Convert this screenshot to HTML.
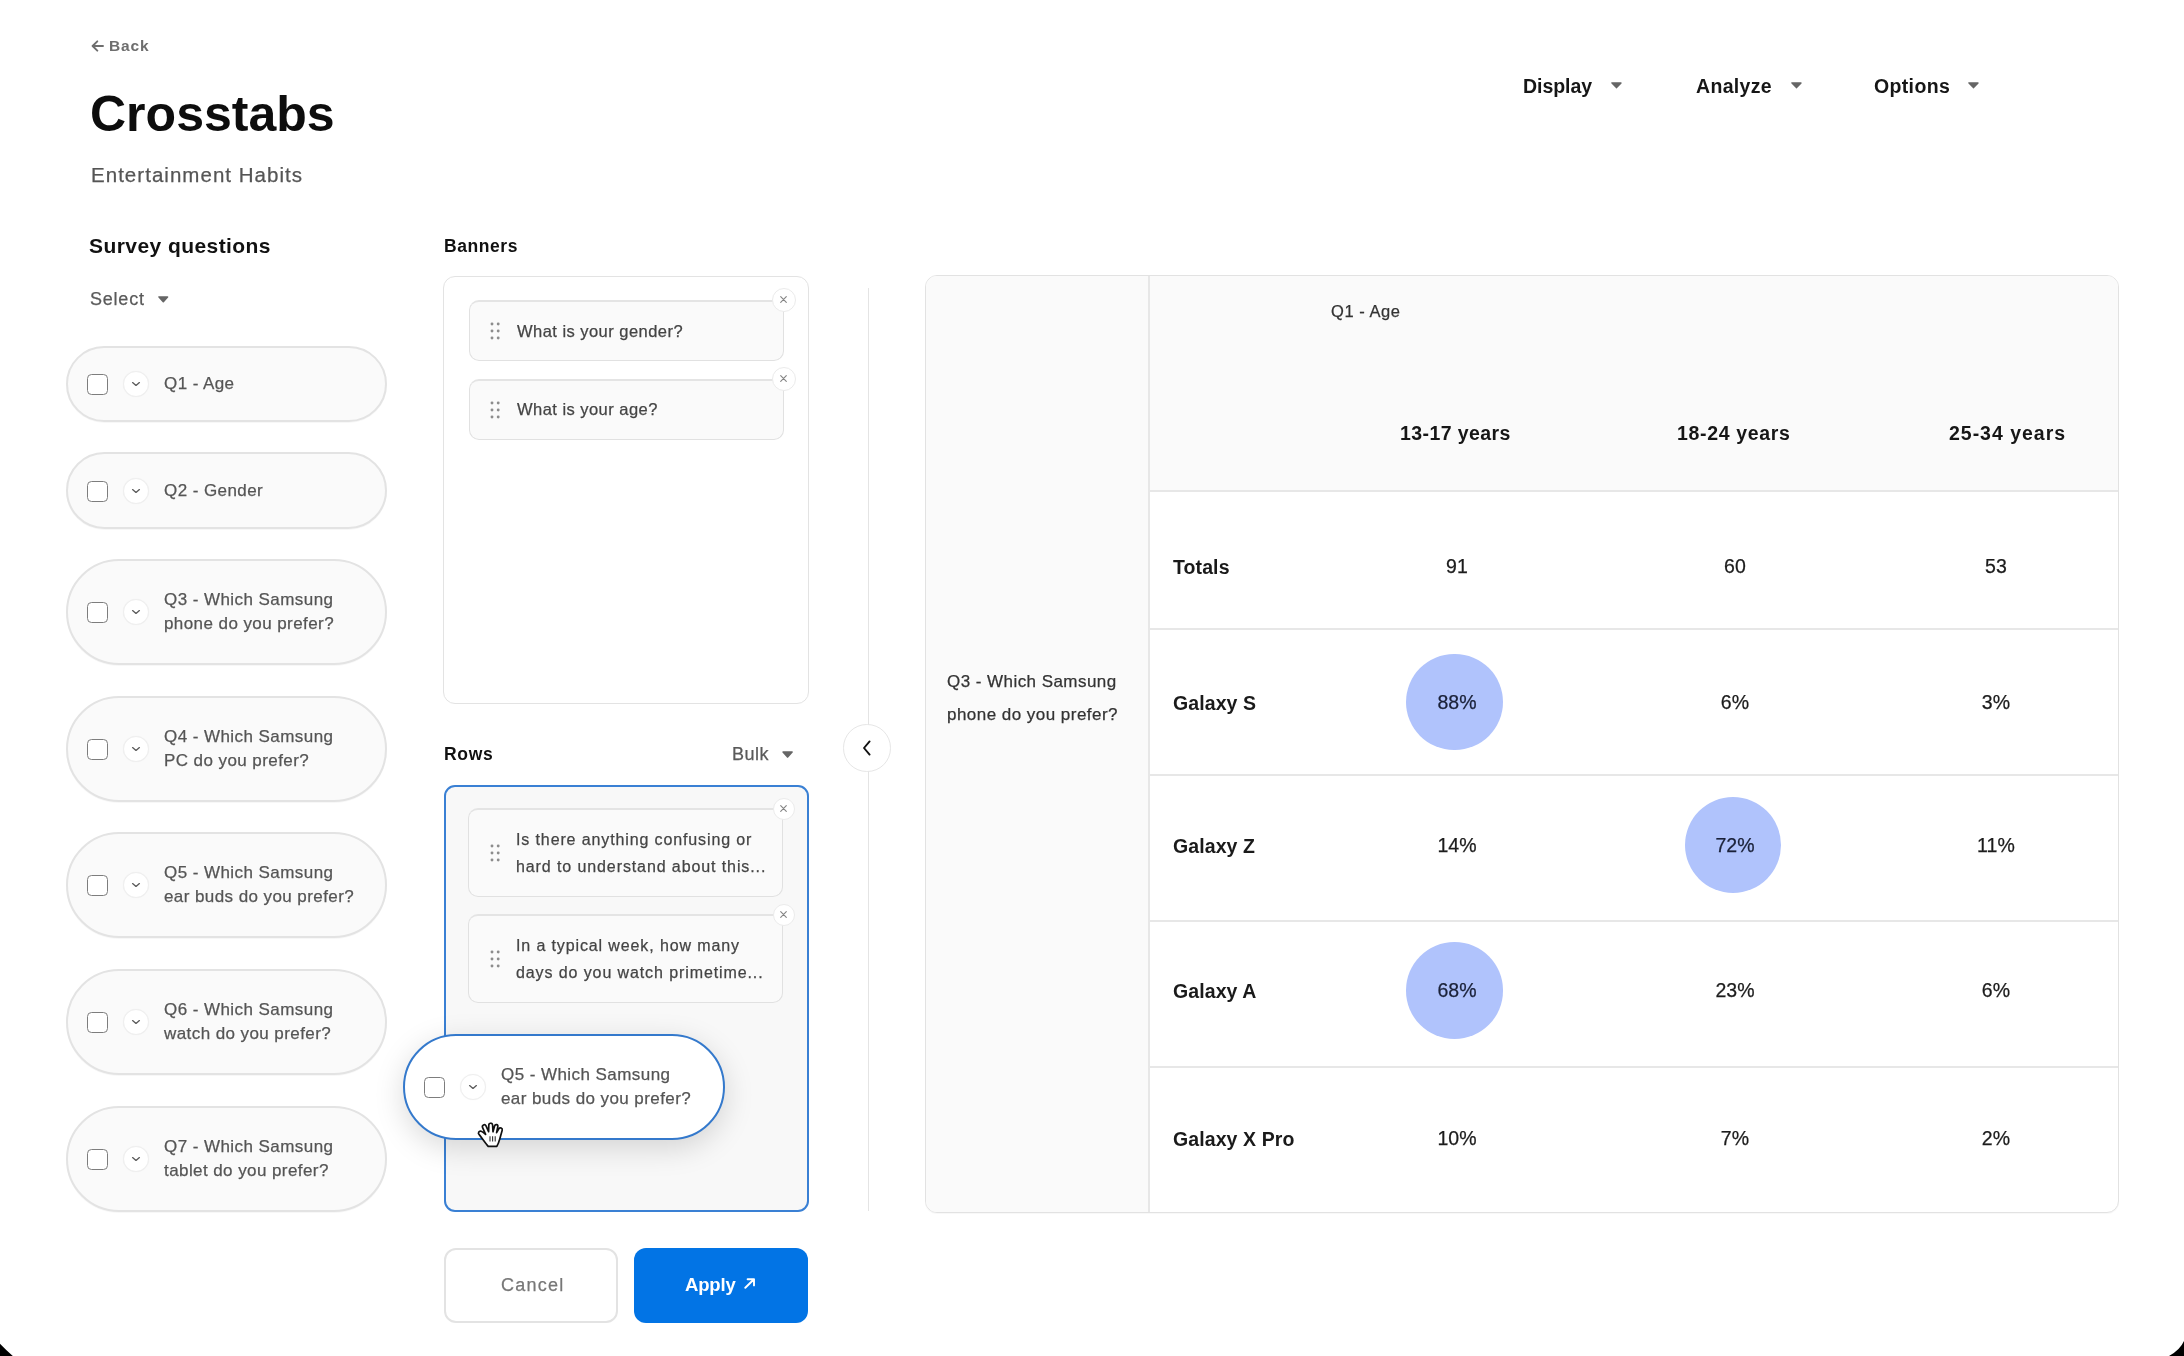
<!DOCTYPE html><html><head><meta charset="utf-8"><style>
html,body{margin:0;padding:0;}
body{width:2184px;height:1356px;overflow:hidden;background:#000;position:relative;font-family:"Liberation Sans", sans-serif;}
#page{position:absolute;left:0;top:0;width:2184px;height:1356px;background:#fff;overflow:hidden;}
.t{will-change:transform;}
.t.r{-webkit-text-stroke:0.25px currentColor;}
.a{position:absolute;}
.t{position:absolute;white-space:nowrap;}
</style></head><body><div id="page">
<svg class="a" style="left:91px;top:39.5px" width="13" height="12" viewBox="0 0 13 12"><path d="M12 6 L1.8 6 M6.3 1.3 L1.6 6 L6.3 10.7" fill="none" stroke="#6e6e6e" stroke-width="1.9" stroke-linecap="round" stroke-linejoin="round"/></svg>
<div class="t" style="left:109.40px;top:36.58px;font-size:15.5px;line-height:18.6px;font-weight:700;color:#6e6e6e;letter-spacing:0.867px;">Back</div>
<div class="t" style="left:89.70px;top:84.17px;font-size:50px;line-height:60.0px;font-weight:700;color:#0d0d0d;letter-spacing:0.013px;">Crosstabs</div>
<div class="t r" style="left:90.70px;top:162.92px;font-size:20.5px;line-height:24.6px;font-weight:400;color:#555;letter-spacing:1.032px;">Entertainment Habits</div>
<div class="t" style="left:1522.70px;top:74.56px;font-size:19.5px;line-height:23.4px;font-weight:700;color:#161616;letter-spacing:-0.033px;">Display</div>
<svg class="a" style="left:1611.2px;top:82.3px" width="11.00" height="6.50" viewBox="0 0 10 6.2" preserveAspectRatio="none"><path d="M1 0.9 L9 0.9 L5 5.3 Z" fill="#666" stroke="#666" stroke-width="1.5" stroke-linejoin="round"/></svg>
<div class="t" style="left:1695.90px;top:74.56px;font-size:19.5px;line-height:23.4px;font-weight:700;color:#161616;letter-spacing:0.333px;">Analyze</div>
<svg class="a" style="left:1790.7px;top:82.3px" width="11.00" height="6.50" viewBox="0 0 10 6.2" preserveAspectRatio="none"><path d="M1 0.9 L9 0.9 L5 5.3 Z" fill="#666" stroke="#666" stroke-width="1.5" stroke-linejoin="round"/></svg>
<div class="t" style="left:1873.50px;top:74.56px;font-size:19.5px;line-height:23.4px;font-weight:700;color:#161616;letter-spacing:0.35px;">Options</div>
<svg class="a" style="left:1967.9px;top:82.3px" width="11.00" height="6.50" viewBox="0 0 10 6.2" preserveAspectRatio="none"><path d="M1 0.9 L9 0.9 L5 5.3 Z" fill="#666" stroke="#666" stroke-width="1.5" stroke-linejoin="round"/></svg>
<div class="t" style="left:89.40px;top:233.16px;font-size:21px;line-height:25.2px;font-weight:700;color:#111;letter-spacing:0.433px;">Survey questions</div>
<div class="t r" style="left:89.60px;top:288.55px;font-size:18px;line-height:21.6px;font-weight:400;color:#5a5a5a;letter-spacing:0.78px;">Select</div>
<svg class="a" style="left:158.4px;top:296.2px" width="10.60" height="6.70" viewBox="0 0 10 6.2" preserveAspectRatio="none"><path d="M1 0.9 L9 0.9 L5 5.3 Z" fill="#666" stroke="#666" stroke-width="1.5" stroke-linejoin="round"/></svg>
<div class="a" style="left:66px;top:345.6px;width:321px;height:76.8px;box-sizing:border-box;border:2px solid #e3e3e3;border-radius:38.4px;background:#fafafa;box-shadow:0 1px 0 rgba(0,0,0,0.03)"></div>
<div class="a" style="left:86.5px;top:374.0px;width:21px;height:21px;box-sizing:border-box;border:1.8px solid #7d7d7d;border-radius:4.5px;background:#fff;"></div>
<div class="a" style="left:123.0px;top:371.0px;width:26px;height:26px;box-sizing:border-box;border-radius:50%;background:#fff;border:1px solid #efefef;box-shadow:0 0 1px rgba(0,0,0,0.06)"></div>
<svg class="a" style="left:131px;top:381.0px" width="10" height="6" viewBox="0 0 10 6"><path d="M1.6 1.6 L5 4.4 L8.4 1.6" fill="none" stroke="#5a5a5a" stroke-width="1.35" stroke-linecap="round" stroke-linejoin="round"/></svg>
<div class="t r" style="left:163.80px;top:374.18px;font-size:17px;line-height:20.4px;font-weight:400;color:#555;letter-spacing:0.42px;">Q1 - Age</div>
<div class="a" style="left:66px;top:452.3px;width:321px;height:76.8px;box-sizing:border-box;border:2px solid #e3e3e3;border-radius:38.4px;background:#fafafa;box-shadow:0 1px 0 rgba(0,0,0,0.03)"></div>
<div class="a" style="left:86.5px;top:480.7px;width:21px;height:21px;box-sizing:border-box;border:1.8px solid #7d7d7d;border-radius:4.5px;background:#fff;"></div>
<div class="a" style="left:123.0px;top:477.7px;width:26px;height:26px;box-sizing:border-box;border-radius:50%;background:#fff;border:1px solid #efefef;box-shadow:0 0 1px rgba(0,0,0,0.06)"></div>
<svg class="a" style="left:131px;top:487.7px" width="10" height="6" viewBox="0 0 10 6"><path d="M1.6 1.6 L5 4.4 L8.4 1.6" fill="none" stroke="#5a5a5a" stroke-width="1.35" stroke-linecap="round" stroke-linejoin="round"/></svg>
<div class="t r" style="left:163.80px;top:480.88px;font-size:17px;line-height:20.4px;font-weight:400;color:#555;letter-spacing:0.42px;">Q2 - Gender</div>
<div class="a" style="left:66px;top:558.8px;width:321px;height:106px;box-sizing:border-box;border:2px solid #e3e3e3;border-radius:53.0px;background:#fafafa;box-shadow:0 1px 0 rgba(0,0,0,0.03)"></div>
<div class="a" style="left:86.5px;top:601.8px;width:21px;height:21px;box-sizing:border-box;border:1.8px solid #7d7d7d;border-radius:4.5px;background:#fff;"></div>
<div class="a" style="left:123.0px;top:598.8px;width:26px;height:26px;box-sizing:border-box;border-radius:50%;background:#fff;border:1px solid #efefef;box-shadow:0 0 1px rgba(0,0,0,0.06)"></div>
<svg class="a" style="left:131px;top:608.8px" width="10" height="6" viewBox="0 0 10 6"><path d="M1.6 1.6 L5 4.4 L8.4 1.6" fill="none" stroke="#5a5a5a" stroke-width="1.35" stroke-linecap="round" stroke-linejoin="round"/></svg>
<div class="t r" style="left:163.80px;top:590.08px;font-size:17px;line-height:20.4px;font-weight:400;color:#555;letter-spacing:0.44px;">Q3 - Which Samsung</div>
<div class="t r" style="left:163.80px;top:613.98px;font-size:17px;line-height:20.4px;font-weight:400;color:#555;letter-spacing:0.42px;">phone do you prefer?</div>
<div class="a" style="left:66px;top:695.5px;width:321px;height:106px;box-sizing:border-box;border:2px solid #e3e3e3;border-radius:53.0px;background:#fafafa;box-shadow:0 1px 0 rgba(0,0,0,0.03)"></div>
<div class="a" style="left:86.5px;top:738.5px;width:21px;height:21px;box-sizing:border-box;border:1.8px solid #7d7d7d;border-radius:4.5px;background:#fff;"></div>
<div class="a" style="left:123.0px;top:735.5px;width:26px;height:26px;box-sizing:border-box;border-radius:50%;background:#fff;border:1px solid #efefef;box-shadow:0 0 1px rgba(0,0,0,0.06)"></div>
<svg class="a" style="left:131px;top:745.5px" width="10" height="6" viewBox="0 0 10 6"><path d="M1.6 1.6 L5 4.4 L8.4 1.6" fill="none" stroke="#5a5a5a" stroke-width="1.35" stroke-linecap="round" stroke-linejoin="round"/></svg>
<div class="t r" style="left:163.80px;top:726.78px;font-size:17px;line-height:20.4px;font-weight:400;color:#555;letter-spacing:0.44px;">Q4 - Which Samsung</div>
<div class="t r" style="left:163.80px;top:750.68px;font-size:17px;line-height:20.4px;font-weight:400;color:#555;letter-spacing:0.42px;">PC do you prefer?</div>
<div class="a" style="left:66px;top:832.2px;width:321px;height:106px;box-sizing:border-box;border:2px solid #e3e3e3;border-radius:53.0px;background:#fafafa;box-shadow:0 1px 0 rgba(0,0,0,0.03)"></div>
<div class="a" style="left:86.5px;top:875.2px;width:21px;height:21px;box-sizing:border-box;border:1.8px solid #7d7d7d;border-radius:4.5px;background:#fff;"></div>
<div class="a" style="left:123.0px;top:872.2px;width:26px;height:26px;box-sizing:border-box;border-radius:50%;background:#fff;border:1px solid #efefef;box-shadow:0 0 1px rgba(0,0,0,0.06)"></div>
<svg class="a" style="left:131px;top:882.2px" width="10" height="6" viewBox="0 0 10 6"><path d="M1.6 1.6 L5 4.4 L8.4 1.6" fill="none" stroke="#5a5a5a" stroke-width="1.35" stroke-linecap="round" stroke-linejoin="round"/></svg>
<div class="t r" style="left:163.80px;top:863.48px;font-size:17px;line-height:20.4px;font-weight:400;color:#555;letter-spacing:0.44px;">Q5 - Which Samsung</div>
<div class="t r" style="left:163.80px;top:887.38px;font-size:17px;line-height:20.4px;font-weight:400;color:#555;letter-spacing:0.42px;">ear buds do you prefer?</div>
<div class="a" style="left:66px;top:968.9px;width:321px;height:106px;box-sizing:border-box;border:2px solid #e3e3e3;border-radius:53.0px;background:#fafafa;box-shadow:0 1px 0 rgba(0,0,0,0.03)"></div>
<div class="a" style="left:86.5px;top:1011.9px;width:21px;height:21px;box-sizing:border-box;border:1.8px solid #7d7d7d;border-radius:4.5px;background:#fff;"></div>
<div class="a" style="left:123.0px;top:1008.9px;width:26px;height:26px;box-sizing:border-box;border-radius:50%;background:#fff;border:1px solid #efefef;box-shadow:0 0 1px rgba(0,0,0,0.06)"></div>
<svg class="a" style="left:131px;top:1018.9px" width="10" height="6" viewBox="0 0 10 6"><path d="M1.6 1.6 L5 4.4 L8.4 1.6" fill="none" stroke="#5a5a5a" stroke-width="1.35" stroke-linecap="round" stroke-linejoin="round"/></svg>
<div class="t r" style="left:163.80px;top:1000.18px;font-size:17px;line-height:20.4px;font-weight:400;color:#555;letter-spacing:0.44px;">Q6 - Which Samsung</div>
<div class="t r" style="left:163.80px;top:1024.08px;font-size:17px;line-height:20.4px;font-weight:400;color:#555;letter-spacing:0.42px;">watch do you prefer?</div>
<div class="a" style="left:66px;top:1105.6px;width:321px;height:106px;box-sizing:border-box;border:2px solid #e3e3e3;border-radius:53.0px;background:#fafafa;box-shadow:0 1px 0 rgba(0,0,0,0.03)"></div>
<div class="a" style="left:86.5px;top:1148.6px;width:21px;height:21px;box-sizing:border-box;border:1.8px solid #7d7d7d;border-radius:4.5px;background:#fff;"></div>
<div class="a" style="left:123.0px;top:1145.6px;width:26px;height:26px;box-sizing:border-box;border-radius:50%;background:#fff;border:1px solid #efefef;box-shadow:0 0 1px rgba(0,0,0,0.06)"></div>
<svg class="a" style="left:131px;top:1155.6px" width="10" height="6" viewBox="0 0 10 6"><path d="M1.6 1.6 L5 4.4 L8.4 1.6" fill="none" stroke="#5a5a5a" stroke-width="1.35" stroke-linecap="round" stroke-linejoin="round"/></svg>
<div class="t r" style="left:163.80px;top:1136.88px;font-size:17px;line-height:20.4px;font-weight:400;color:#555;letter-spacing:0.44px;">Q7 - Which Samsung</div>
<div class="t r" style="left:163.80px;top:1160.78px;font-size:17px;line-height:20.4px;font-weight:400;color:#555;letter-spacing:0.42px;">tablet do you prefer?</div>
<div class="t" style="left:443.60px;top:235.62px;font-size:17.5px;line-height:21.0px;font-weight:700;color:#111;letter-spacing:0.567px;">Banners</div>
<div class="a" style="left:443px;top:275.5px;width:366px;height:428px;box-sizing:border-box;border:1.4px solid #e3e3e3;border-radius:12px;background:#fff;"></div>
<div class="a" style="left:468.5px;top:300.4px;width:315px;height:61px;box-sizing:border-box;border:1.5px solid #e1e1e1;border-top:2.5px solid #e4e4e4;border-radius:10px;background:#fafafa;"></div>
<svg class="a" style="left:489px;top:320.9px" width="13" height="20" viewBox="0 0 13 20"><circle cx="3" cy="3" r="1.45" fill="#8c8c8c"/><circle cx="3" cy="10" r="1.45" fill="#8c8c8c"/><circle cx="3" cy="17" r="1.45" fill="#8c8c8c"/><circle cx="9.2" cy="3" r="1.45" fill="#8c8c8c"/><circle cx="9.2" cy="10" r="1.45" fill="#8c8c8c"/><circle cx="9.2" cy="17" r="1.45" fill="#8c8c8c"/></svg>
<div class="t r" style="left:517.30px;top:321.55px;font-size:16.5px;line-height:19.8px;font-weight:400;color:#444;letter-spacing:0.46px;">What is your gender?</div>
<div class="a" style="left:771.5px;top:288.4px;width:24px;height:24px;box-sizing:border-box;border-radius:50%;background:#fff;border:1.2px solid #ebebeb;"></div>
<svg class="a" style="left:779.0px;top:295.09999999999997px" width="9" height="9" viewBox="0 0 9 9"><path d="M1.7 1.7 L7.3 7.3 M7.3 1.7 L1.7 7.3" fill="none" stroke="#858585" stroke-width="1.15" stroke-linecap="round"/></svg>
<div class="a" style="left:468.5px;top:379.2px;width:315px;height:60.7px;box-sizing:border-box;border:1.5px solid #e1e1e1;border-top:2.5px solid #e4e4e4;border-radius:10px;background:#fafafa;"></div>
<svg class="a" style="left:489px;top:399.55px" width="13" height="20" viewBox="0 0 13 20"><circle cx="3" cy="3" r="1.45" fill="#8c8c8c"/><circle cx="3" cy="10" r="1.45" fill="#8c8c8c"/><circle cx="3" cy="17" r="1.45" fill="#8c8c8c"/><circle cx="9.2" cy="3" r="1.45" fill="#8c8c8c"/><circle cx="9.2" cy="10" r="1.45" fill="#8c8c8c"/><circle cx="9.2" cy="17" r="1.45" fill="#8c8c8c"/></svg>
<div class="t r" style="left:517.30px;top:400.20px;font-size:16.5px;line-height:19.8px;font-weight:400;color:#444;letter-spacing:0.46px;">What is your age?</div>
<div class="a" style="left:771.5px;top:367.2px;width:24px;height:24px;box-sizing:border-box;border-radius:50%;background:#fff;border:1.2px solid #ebebeb;"></div>
<svg class="a" style="left:779.0px;top:373.9px" width="9" height="9" viewBox="0 0 9 9"><path d="M1.7 1.7 L7.3 7.3 M7.3 1.7 L1.7 7.3" fill="none" stroke="#858585" stroke-width="1.15" stroke-linecap="round"/></svg>
<div class="t" style="left:443.80px;top:743.82px;font-size:17.5px;line-height:21.0px;font-weight:700;color:#111;letter-spacing:0.667px;">Rows</div>
<div class="t r" style="left:732.30px;top:744.15px;font-size:18px;line-height:21.6px;font-weight:400;color:#5a5a5a;letter-spacing:0.5px;">Bulk</div>
<svg class="a" style="left:782.3px;top:751px" width="11.20" height="7.00" viewBox="0 0 10 6.2" preserveAspectRatio="none"><path d="M1 0.9 L9 0.9 L5 5.3 Z" fill="#666" stroke="#666" stroke-width="1.5" stroke-linejoin="round"/></svg>
<div class="a" style="left:443.5px;top:784.5px;width:365px;height:427px;box-sizing:border-box;border:2px solid #3a80d4;border-radius:11px;background:#f8f8f8;"></div>
<div class="a" style="left:468.3px;top:808.4px;width:315px;height:88.2px;box-sizing:border-box;border:1.5px solid #e1e1e1;border-top:2.5px solid #e4e4e4;border-radius:10px;background:#fafafa;"></div>
<svg class="a" style="left:489px;top:842.5px" width="13" height="20" viewBox="0 0 13 20"><circle cx="3" cy="3" r="1.45" fill="#8c8c8c"/><circle cx="3" cy="10" r="1.45" fill="#8c8c8c"/><circle cx="3" cy="17" r="1.45" fill="#8c8c8c"/><circle cx="9.2" cy="3" r="1.45" fill="#8c8c8c"/><circle cx="9.2" cy="10" r="1.45" fill="#8c8c8c"/><circle cx="9.2" cy="17" r="1.45" fill="#8c8c8c"/></svg>
<div class="t r" style="left:516.00px;top:830.21px;font-size:16px;line-height:19.2px;font-weight:400;color:#444;letter-spacing:0.88px;">Is there anything confusing or</div>
<div class="t r" style="left:516.00px;top:857.21px;font-size:16px;line-height:19.2px;font-weight:400;color:#444;letter-spacing:0.9px;">hard to understand about this...</div>
<div class="a" style="left:772.5px;top:797.9px;width:22px;height:22px;box-sizing:border-box;border-radius:50%;background:#fff;border:1.2px solid #ebebeb;"></div>
<svg class="a" style="left:779.0px;top:803.6px" width="9" height="9" viewBox="0 0 9 9"><path d="M1.7 1.7 L7.3 7.3 M7.3 1.7 L1.7 7.3" fill="none" stroke="#858585" stroke-width="1.15" stroke-linecap="round"/></svg>
<div class="a" style="left:468.3px;top:914.3px;width:315px;height:88.5px;box-sizing:border-box;border:1.5px solid #e1e1e1;border-top:2.5px solid #e4e4e4;border-radius:10px;background:#fafafa;"></div>
<svg class="a" style="left:489px;top:948.55px" width="13" height="20" viewBox="0 0 13 20"><circle cx="3" cy="3" r="1.45" fill="#8c8c8c"/><circle cx="3" cy="10" r="1.45" fill="#8c8c8c"/><circle cx="3" cy="17" r="1.45" fill="#8c8c8c"/><circle cx="9.2" cy="3" r="1.45" fill="#8c8c8c"/><circle cx="9.2" cy="10" r="1.45" fill="#8c8c8c"/><circle cx="9.2" cy="17" r="1.45" fill="#8c8c8c"/></svg>
<div class="t r" style="left:516.00px;top:936.26px;font-size:16px;line-height:19.2px;font-weight:400;color:#444;letter-spacing:0.88px;">In a typical week, how many</div>
<div class="t r" style="left:516.00px;top:963.26px;font-size:16px;line-height:19.2px;font-weight:400;color:#444;letter-spacing:0.9px;">days do you watch primetime...</div>
<div class="a" style="left:772.5px;top:903.8px;width:22px;height:22px;box-sizing:border-box;border-radius:50%;background:#fff;border:1.2px solid #ebebeb;"></div>
<svg class="a" style="left:779.0px;top:909.5px" width="9" height="9" viewBox="0 0 9 9"><path d="M1.7 1.7 L7.3 7.3 M7.3 1.7 L1.7 7.3" fill="none" stroke="#858585" stroke-width="1.15" stroke-linecap="round"/></svg>
<div class="a" style="left:403px;top:1033.5px;width:321.5px;height:106.5px;box-sizing:border-box;border:2px solid #3479cc;border-radius:53.25px;background:#fff;box-shadow:0 8px 30px rgba(0,0,0,0.15)"></div>
<div class="a" style="left:424px;top:1076.75px;width:21px;height:21px;box-sizing:border-box;border:1.8px solid #7d7d7d;border-radius:4.5px;background:#fff;"></div>
<div class="a" style="left:460.0px;top:1073.75px;width:26px;height:26px;box-sizing:border-box;border-radius:50%;background:#fff;border:1px solid #efefef;box-shadow:0 0 1px rgba(0,0,0,0.06)"></div>
<svg class="a" style="left:468px;top:1083.75px" width="10" height="6" viewBox="0 0 10 6"><path d="M1.6 1.6 L5 4.4 L8.4 1.6" fill="none" stroke="#5a5a5a" stroke-width="1.35" stroke-linecap="round" stroke-linejoin="round"/></svg>
<div class="t r" style="left:500.80px;top:1065.03px;font-size:17px;line-height:20.4px;font-weight:400;color:#555;letter-spacing:0.44px;">Q5 - Which Samsung</div>
<div class="t r" style="left:500.80px;top:1088.93px;font-size:17px;line-height:20.4px;font-weight:400;color:#555;letter-spacing:0.42px;">ear buds do you prefer?</div>
<svg class="a" style="left:470px;top:1112px" width="42" height="42" viewBox="0 0 42 42">
<path d="M9.2 22.6 C7.6 21.4 8.8 18.6 11.2 19.2 C12.6 19.6 14.2 21 15.6 22.4 L12.6 15.6 C11.6 13.2 14.8 11.6 16 13.8 L18.6 19.6 L18.8 13.2 C18.8 10.6 22.4 10.6 22.6 13 L23 19.8 L24.6 14 C25.2 11.8 28.2 12.4 27.8 14.6 L26.6 20.6 L28.8 16.8 C30 15 32.8 16.2 32.2 18.2 L29.6 27.4 C29 30 28 32.2 26.8 34.4 L18.2 34.4 C15.6 31.4 12.4 26.6 9.2 22.6 Z" fill="#fff" stroke="#111" stroke-width="1.7" stroke-linejoin="round"/>
<path d="M20 24.2 L20 29.6 M22.6 24.2 L22.6 29.6 M25.2 24.2 L25.2 29.6" stroke="#333" stroke-width="1.1"/>
</svg>
<div class="a" style="left:443.5px;top:1247.5px;width:174.5px;height:75.5px;box-sizing:border-box;border:2px solid #e3e3e3;border-radius:12px;background:#fff;"></div>
<div class="t r" style="left:500.80px;top:1274.55px;font-size:18px;line-height:21.6px;font-weight:400;color:#777;letter-spacing:1.24px;">Cancel</div>
<div class="a" style="left:633.5px;top:1247.5px;width:174.5px;height:75.5px;border-radius:12px;background:#0274e5;"></div>
<div class="t" style="left:685.10px;top:1274.39px;font-size:18.5px;line-height:22.2px;font-weight:700;color:#fff;letter-spacing:-0.15px;">Apply</div>
<svg class="a" style="left:743.5px;top:1277.5px" width="12" height="11" viewBox="0 0 12 11"><path d="M1.3 9.8 L10 1.2 M3.6 1.2 L10 1.2 L10 7.4" fill="none" stroke="#fff" stroke-width="1.9" stroke-linecap="round" stroke-linejoin="round"/></svg>
<div class="a" style="left:867.5px;top:288px;width:1.5px;height:923px;background:#e4e4e4;"></div>
<div class="a" style="left:843.3px;top:724.3px;width:47.5px;height:47.5px;box-sizing:border-box;border-radius:50%;border:1.4px solid #e6e6e6;background:#fff;"></div>
<svg class="a" style="left:861px;top:739px" width="12" height="18" viewBox="0 0 12 18"><path d="M8.6 2.4 L3 9 L8.6 15.6" fill="none" stroke="#111" stroke-width="1.9" stroke-linecap="round" stroke-linejoin="round"/></svg>
<div class="a" style="left:925px;top:275px;width:1194px;height:937.5px;box-sizing:border-box;border:1.4px solid #e2e2e2;border-radius:12px;background:#fff;overflow:hidden;box-shadow:0 1px 1px rgba(0,0,0,0.03)">
<div class="a" style="left:-1.40px;top:-1.40px;width:224px;height:937.5px;background:#fafafa;"></div>
<div class="a" style="left:222.60px;top:-1.40px;width:970px;height:216px;background:#fafafa;"></div>
<div class="a" style="left:221.60px;top:-1.40px;width:2px;height:937.5px;background:#e7e7e7;"></div>
<div class="a" style="left:222.60px;top:213.60px;width:970px;height:2px;background:#e7e7e7;"></div>
<div class="a" style="left:222.60px;top:351.60px;width:970px;height:2px;background:#e7e7e7;"></div>
<div class="a" style="left:222.60px;top:497.60px;width:970px;height:2px;background:#e7e7e7;"></div>
<div class="a" style="left:222.60px;top:643.60px;width:970px;height:2px;background:#e7e7e7;"></div>
<div class="a" style="left:222.60px;top:789.60px;width:970px;height:2px;background:#e7e7e7;"></div>
</div>
<div class="t r" style="left:1331.40px;top:302.05px;font-size:16.5px;line-height:19.8px;font-weight:400;color:#333;letter-spacing:0.543px;">Q1 - Age</div>
<div class="t" style="left:1399.80px;top:421.76px;font-size:19.5px;line-height:23.4px;font-weight:700;color:#161616;letter-spacing:0.42px;">13-17 years</div>
<div class="t" style="left:1676.50px;top:421.66px;font-size:19.5px;line-height:23.4px;font-weight:700;color:#161616;letter-spacing:0.66px;">18-24 years</div>
<div class="t" style="left:1949.20px;top:421.66px;font-size:19.5px;line-height:23.4px;font-weight:700;color:#161616;letter-spacing:0.98px;">25-34 years</div>
<div class="t r" style="left:947.30px;top:671.68px;font-size:17px;line-height:20.4px;font-weight:400;color:#333;letter-spacing:0.447px;">Q3 - Which Samsung</div>
<div class="t r" style="left:947.30px;top:705.08px;font-size:17px;line-height:20.4px;font-weight:400;color:#333;letter-spacing:0.468px;">phone do you prefer?</div>
<div class="t" style="left:1172.90px;top:555.96px;font-size:19.5px;line-height:23.4px;font-weight:700;color:#1a1a1a;letter-spacing:0.1px;">Totals</div>
<div class="t r" style="left:1396.80px;width:120px;text-align:center;top:555.36px;font-size:19.5px;line-height:23.4px;font-weight:400;color:#1c1c1c;letter-spacing:0.1px;text-indent:0.1px;">91</div>
<div class="t r" style="left:1674.50px;width:120px;text-align:center;top:555.36px;font-size:19.5px;line-height:23.4px;font-weight:400;color:#1c1c1c;letter-spacing:0.1px;text-indent:0.1px;">60</div>
<div class="t r" style="left:1936.00px;width:120px;text-align:center;top:555.36px;font-size:19.5px;line-height:23.4px;font-weight:400;color:#1c1c1c;letter-spacing:0.1px;text-indent:0.1px;">53</div>
<div class="t" style="left:1172.90px;top:691.96px;font-size:19.5px;line-height:23.4px;font-weight:700;color:#1a1a1a;letter-spacing:0.1px;">Galaxy S</div>
<div class="a" style="left:1406.35px;top:653.75px;width:96.5px;height:96.5px;border-radius:50%;background:#b0c3fc;"></div>
<div class="t r" style="left:1396.80px;width:120px;text-align:center;top:690.76px;font-size:19.5px;line-height:23.4px;font-weight:400;color:#1a2138;letter-spacing:0.1px;text-indent:0.1px;">88%</div>
<div class="t r" style="left:1674.50px;width:120px;text-align:center;top:690.76px;font-size:19.5px;line-height:23.4px;font-weight:400;color:#1c1c1c;letter-spacing:0.1px;text-indent:0.1px;">6%</div>
<div class="t r" style="left:1936.00px;width:120px;text-align:center;top:690.76px;font-size:19.5px;line-height:23.4px;font-weight:400;color:#1c1c1c;letter-spacing:0.1px;text-indent:0.1px;">3%</div>
<div class="t" style="left:1172.90px;top:834.96px;font-size:19.5px;line-height:23.4px;font-weight:700;color:#1a1a1a;letter-spacing:0.1px;">Galaxy Z</div>
<div class="t r" style="left:1396.80px;width:120px;text-align:center;top:833.76px;font-size:19.5px;line-height:23.4px;font-weight:400;color:#1c1c1c;letter-spacing:0.1px;text-indent:0.1px;">14%</div>
<div class="a" style="left:1684.75px;top:796.75px;width:96.5px;height:96.5px;border-radius:50%;background:#b0c3fc;"></div>
<div class="t r" style="left:1674.50px;width:120px;text-align:center;top:833.76px;font-size:19.5px;line-height:23.4px;font-weight:400;color:#1a2138;letter-spacing:0.1px;text-indent:0.1px;">72%</div>
<div class="t r" style="left:1936.00px;width:120px;text-align:center;top:833.76px;font-size:19.5px;line-height:23.4px;font-weight:400;color:#1c1c1c;letter-spacing:0.1px;text-indent:0.1px;">11%</div>
<div class="t" style="left:1172.90px;top:980.46px;font-size:19.5px;line-height:23.4px;font-weight:700;color:#1a1a1a;letter-spacing:0.1px;">Galaxy A</div>
<div class="a" style="left:1406.35px;top:942.25px;width:96.5px;height:96.5px;border-radius:50%;background:#b0c3fc;"></div>
<div class="t r" style="left:1396.80px;width:120px;text-align:center;top:979.26px;font-size:19.5px;line-height:23.4px;font-weight:400;color:#1a2138;letter-spacing:0.1px;text-indent:0.1px;">68%</div>
<div class="t r" style="left:1674.50px;width:120px;text-align:center;top:979.26px;font-size:19.5px;line-height:23.4px;font-weight:400;color:#1c1c1c;letter-spacing:0.1px;text-indent:0.1px;">23%</div>
<div class="t r" style="left:1936.00px;width:120px;text-align:center;top:979.26px;font-size:19.5px;line-height:23.4px;font-weight:400;color:#1c1c1c;letter-spacing:0.1px;text-indent:0.1px;">6%</div>
<div class="t" style="left:1172.90px;top:1127.76px;font-size:19.5px;line-height:23.4px;font-weight:700;color:#1a1a1a;letter-spacing:0.1px;">Galaxy X Pro</div>
<div class="t r" style="left:1396.80px;width:120px;text-align:center;top:1126.56px;font-size:19.5px;line-height:23.4px;font-weight:400;color:#1c1c1c;letter-spacing:0.1px;text-indent:0.1px;">10%</div>
<div class="t r" style="left:1674.50px;width:120px;text-align:center;top:1126.56px;font-size:19.5px;line-height:23.4px;font-weight:400;color:#1c1c1c;letter-spacing:0.1px;text-indent:0.1px;">7%</div>
<div class="t r" style="left:1936.00px;width:120px;text-align:center;top:1126.56px;font-size:19.5px;line-height:23.4px;font-weight:400;color:#1c1c1c;letter-spacing:0.1px;text-indent:0.1px;">2%</div>
<svg class="a" style="left:0;top:0;z-index:50" width="2184" height="1356" viewBox="0 0 2184 1356"><path d="M0 1343.7 Q6.8 1350.75 12.8 1356 L0 1356 Z" fill="#000"/><path d="M2184 1341 Q2180.1 1349.9 2169 1356 L2184 1356 Z" fill="#000"/></svg>
</div></body></html>
